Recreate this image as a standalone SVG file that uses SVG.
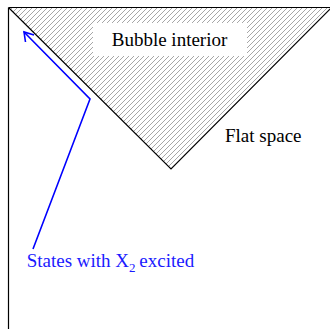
<svg xmlns="http://www.w3.org/2000/svg" width="330" height="329" viewBox="0 0 330 329">
<style>
text{font-family:'Liberation Serif','Times New Roman',serif;font-size:19px;fill:#000}
.blue{fill:#1a1aff}
.edge{stroke:#000;stroke-width:1.2;fill:none}
.conn{stroke:#0000ff;stroke-width:1.6;fill:none;stroke-linejoin:miter}
</style>
<defs>
<pattern id="hatch" patternUnits="userSpaceOnUse" width="5" height="5">
<path d="M-1,1 L1,-1 M0,5 L5,0 M4,6 L6,4" stroke="#9c9c9c" stroke-width="0.9"/>
</pattern>
</defs>
<rect width="330" height="329" fill="#fff"/>
<g id="bubble">
<polygon points="9,8 332,8 171,169" fill="url(#hatch)"/>
<rect x="93" y="23" width="154" height="33" fill="#fff"/>
<text x="169.5" y="45.5" text-anchor="middle">Bubble interior</text>
</g>
<g id="frame">
<line class="edge" x1="8.5" y1="7.5" x2="330" y2="7.5" stroke-width="1.6"/>
<line class="edge" x1="8.5" y1="7.5" x2="8.5" y2="329" stroke-width="1.4"/>
<polyline class="edge" points="9,8 171,169 332,7"/>
</g>
<g id="flat">
<text x="225" y="142.3">Flat space</text>
</g>
<g id="connectors">
<polyline class="conn" points="33,249 90,99 24,32"/>
<polyline class="conn" points="25.5,42 24,32 34,35"/>
</g>
<g id="states">
<text class="blue" x="26.7" y="267.3">States with X<tspan font-size="13" dy="5">2</tspan><tspan dy="-5" dx="-1"> excited</tspan></text>
</g>
</svg>
